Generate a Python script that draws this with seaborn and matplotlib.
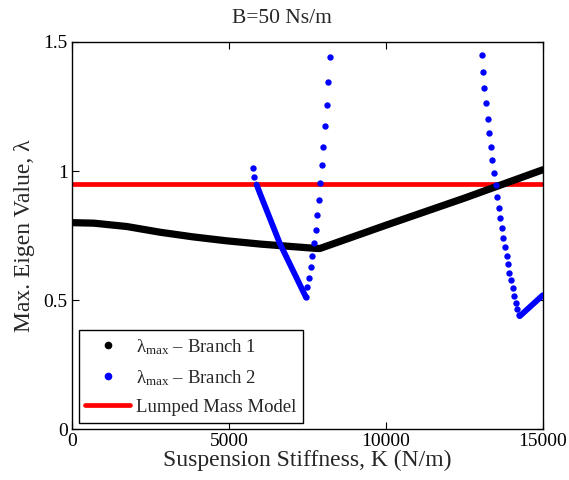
import matplotlib
matplotlib.use("Agg")
import matplotlib.pyplot as plt
import seaborn as sns
import pandas as pd
from matplotlib.lines import Line2D

# ---- data ----
# Branch 1 (black, dense)
k_branch1 = [0, 700, 1750, 2800, 3850, 4900, 6000, 7050, 7800, 7900, 10000, 12500, 15000]
lam_branch1 = [0.800, 0.798, 0.785, 0.763, 0.745, 0.730, 0.717, 0.707, 0.700, 0.700, 0.790, 0.895, 1.005]

# Branch 2 (blue): dense portions
k_branch2_dense_a = [5880, 5990, 6620, 7450]
lam_branch2_dense_a = [0.948, 0.913, 0.720, 0.512]
k_branch2_dense_b = [14268, 15000]
lam_branch2_dense_b = [0.438, 0.519]

# Branch 2 (blue): individual points
k_branch2_pts = [5754, 5807,
                 7452, 7494, 7558, 7601, 7654, 7707, 7760, 7813, 7856, 7898,
                 7951, 8004, 8057, 8111, 8163, 8217,
                 13047, 13089, 13132, 13185, 13238, 13291, 13344, 13386, 13439,
                 13493, 13545, 13588, 13631, 13684, 13737, 13790, 13843, 13896,
                 13938, 13981, 14034, 14076, 14130, 14183, 14246]
lam_branch2_pts = [1.010, 0.978,
                   0.512, 0.549, 0.587, 0.627, 0.671, 0.720, 0.771, 0.828, 0.888, 0.952,
                   1.022, 1.094, 1.173, 1.257, 1.345, 1.441,
                   1.451, 1.385, 1.320, 1.262, 1.202, 1.146, 1.093, 1.043, 0.994,
                   0.946, 0.900, 0.858, 0.817, 0.778, 0.740, 0.704, 0.671, 0.638,
                   0.606, 0.578, 0.545, 0.516, 0.487, 0.464, 0.442]

# Lumped mass model
k_lumped = [0, 15000]
lam_lumped = [0.95, 0.95]

x_ticks = [0, 5000, 10000, 15000]
x_ticklabels = ["0", "5000", "10000", "15000"]
y_ticks = [0, 0.5, 1, 1.5]
y_ticklabels = ["0", "0.5", "1", "1.5"]

title = "B=50 Ns/m"
xlabel = "Suspension Stiffness, K (N/m)"
ylabel = "Max. Eigen Value, λ"
legend_labels = ["λ$_{\\mathrm{max}}$ – Branch 1", "λ$_{\\mathrm{max}}$ – Branch 2", "Lumped Mass Model"]

# ---- style ----
sns.set_style("ticks")
plt.rcParams["font.family"] = ["Liberation Serif", "DejaVu Serif"]
plt.rcParams["mathtext.fontset"] = "custom"
plt.rcParams["mathtext.rm"] = "Liberation Serif"
plt.rcParams["mathtext.it"] = "Liberation Serif:italic"

fig, ax = plt.subplots(figsize=(5.69, 4.8), dpi=100)
fig.subplots_adjust(left=0.1265, right=0.954, top=0.9125, bottom=0.106)

df1 = pd.DataFrame({"K": k_branch1, "lam": lam_branch1})
sns.lineplot(data=df1, x="K", y="lam", ax=ax, color="black", lw=5.2, sort=False,
             solid_capstyle="round", solid_joinstyle="round", zorder=3)

dfa = pd.DataFrame({"K": k_branch2_dense_a, "lam": lam_branch2_dense_a})
sns.lineplot(data=dfa, x="K", y="lam", ax=ax, color="blue", lw=4.2, sort=False,
             solid_capstyle="round", solid_joinstyle="round", zorder=4)
dfb = pd.DataFrame({"K": k_branch2_dense_b, "lam": lam_branch2_dense_b})
sns.lineplot(data=dfb, x="K", y="lam", ax=ax, color="blue", lw=4.2, sort=False,
             solid_capstyle="round", solid_joinstyle="round", zorder=4)

dfp = pd.DataFrame({"K": k_branch2_pts, "lam": lam_branch2_pts})
sns.scatterplot(data=dfp, x="K", y="lam", ax=ax, color="blue", s=21, linewidth=0, zorder=4)

dfl = pd.DataFrame({"K": k_lumped, "lam": lam_lumped})
sns.lineplot(data=dfl, x="K", y="lam", ax=ax, color="red", lw=3.4, zorder=2)

ax.set_xlim(0, 15000)
ax.set_ylim(0, 1.5)
ax.set_xticks(x_ticks)
ax.set_xticklabels(x_ticklabels)
ax.set_yticks(y_ticks)
ax.set_yticklabels(y_ticklabels)
ax.tick_params(direction="in", top=True, right=True, length=5, width=0.8,
               labelsize=14, pad=3, colors="black")
for sp in ax.spines.values():
    sp.set_visible(True)
    sp.set_linewidth(1.0)
    sp.set_color("black")

ax.set_title(title, fontsize=15.5, pad=14, x=0.446)
ax.set_xlabel(xlabel, fontsize=17, labelpad=0)
ax.set_ylabel(ylabel, fontsize=17, labelpad=6)

handles = [
    Line2D([], [], marker="o", color="black", linestyle="none", markersize=4.5),
    Line2D([], [], marker="o", color="blue", linestyle="none", markersize=4.5),
    Line2D([], [], color="red", lw=3.4),
]
leg = ax.legend(handles, legend_labels, loc="lower left", fontsize=13.5, frameon=True,
                fancybox=False, edgecolor="black", framealpha=1, borderaxespad=0.35,
                handlelength=2.4, handletextpad=0.3, labelspacing=0.6, borderpad=0.35)
leg.get_frame().set_linewidth(1.0)

fig.savefig("out.png", dpi=100)
